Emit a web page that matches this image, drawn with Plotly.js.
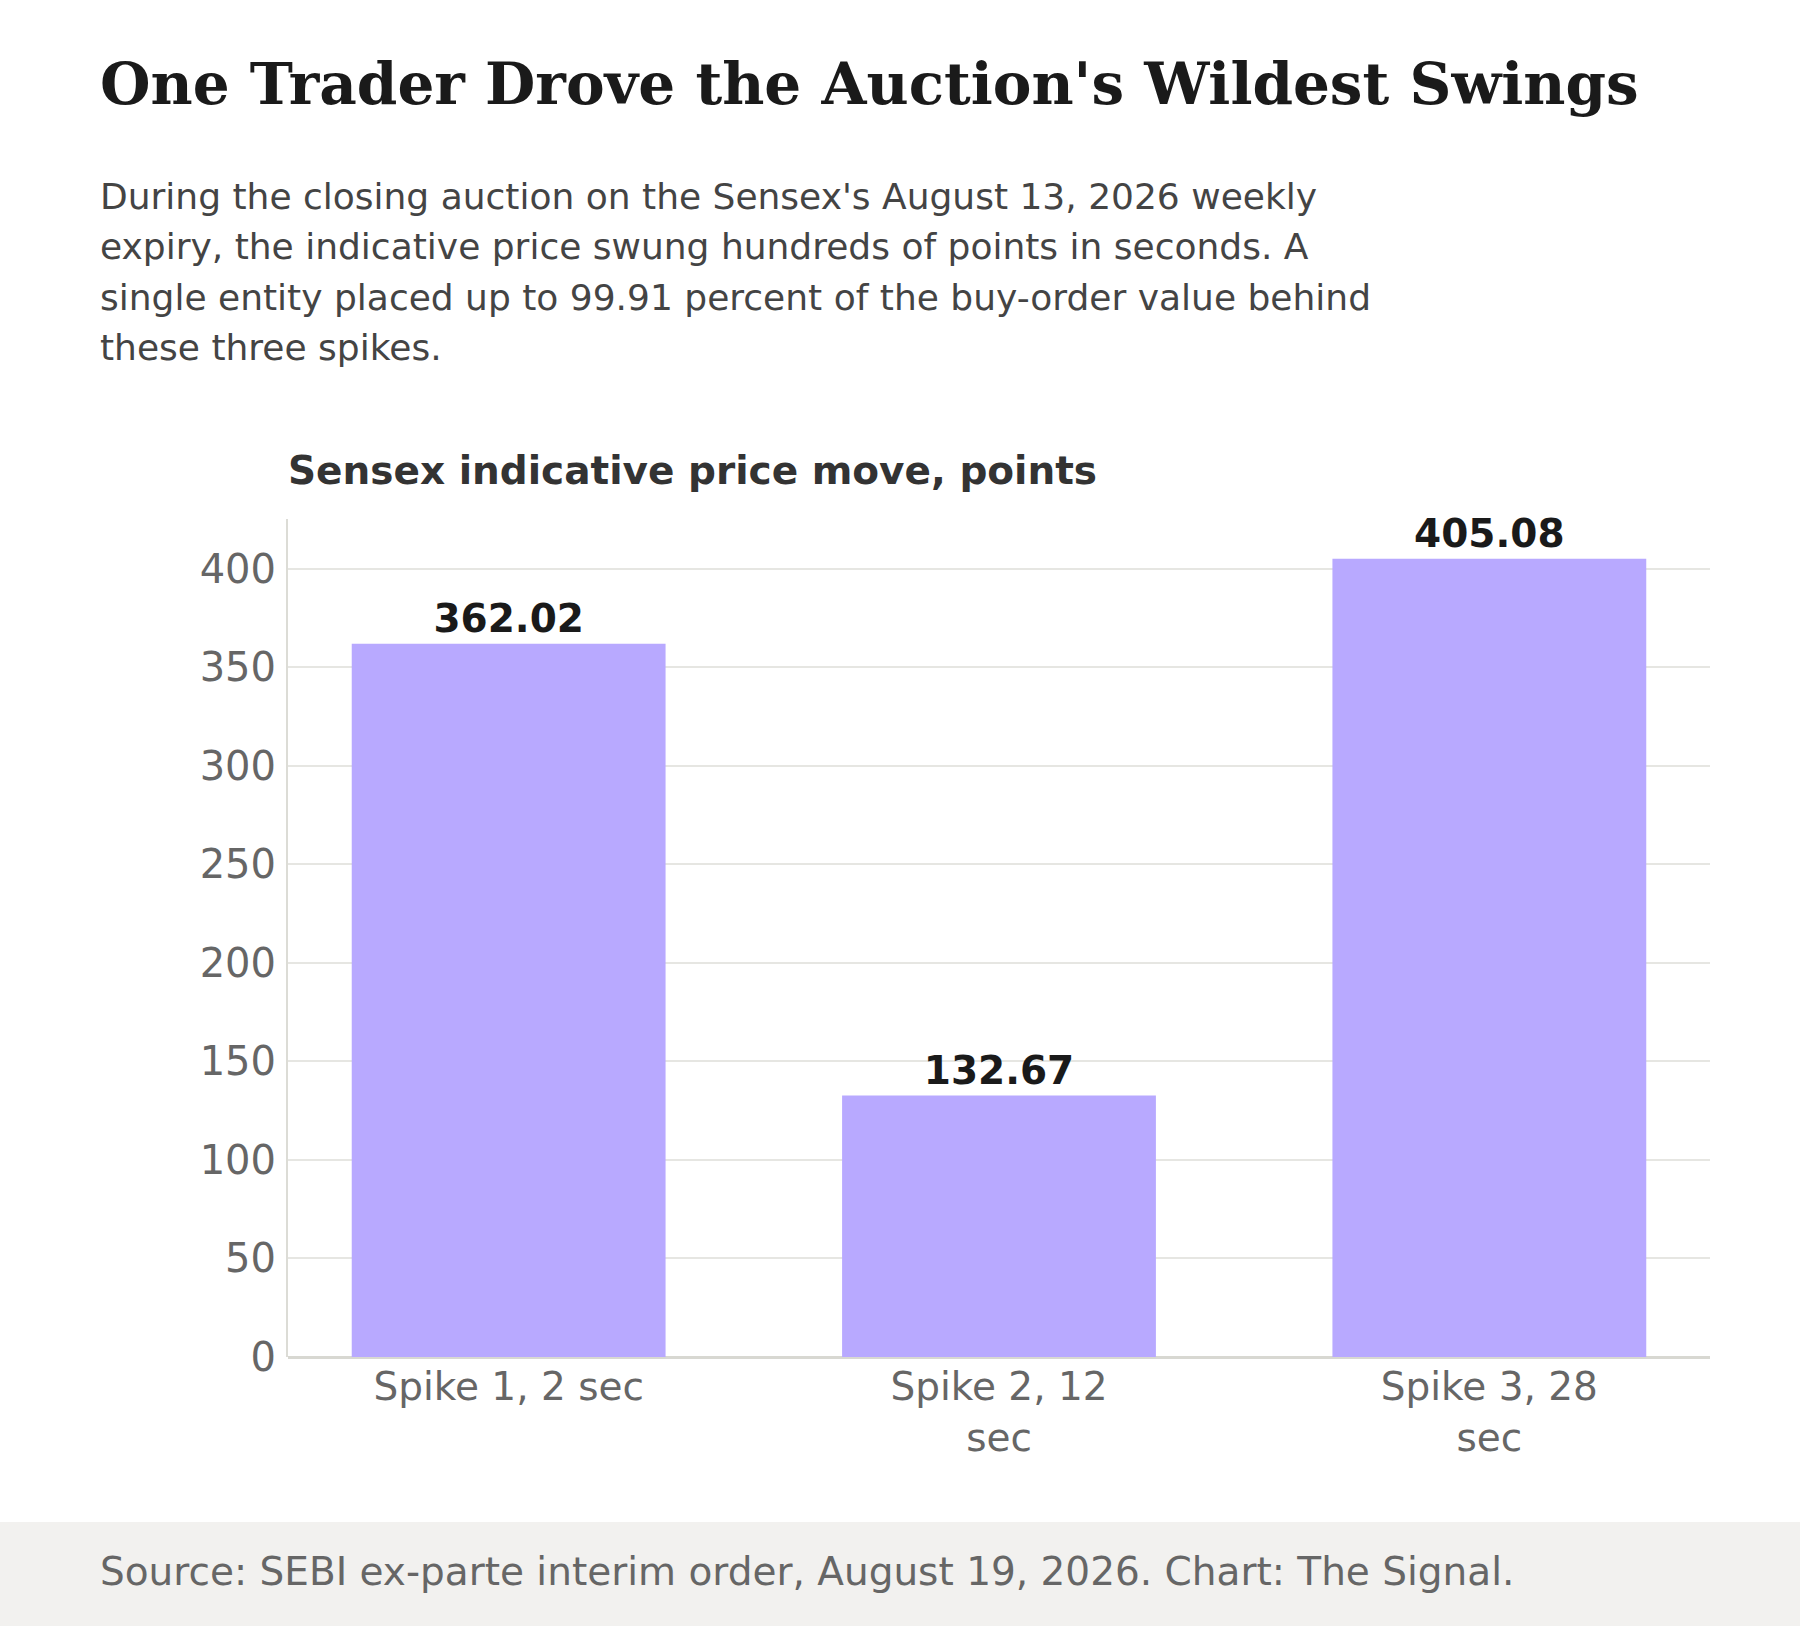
<!DOCTYPE html>
<html>
<head>
<meta charset="utf-8">
<script src="https://cdn.plot.ly/plotly-3.0.1.min.js"></script>
<style>
  html, body { margin: 0; padding: 0; background: #ffffff; }
  #chart { width: 1800px; height: 1626px; }
</style>
</head>
<body>
<div id="chart"></div>
<script>
// Data
const categories = ['Spike 1, 2 sec', 'Spike 2, 12 sec', 'Spike 3, 28 sec'];
const tickLabels = ['Spike 1, 2 sec', 'Spike 2, 12<br>sec', 'Spike 3, 28<br>sec'];
const moves = [362.02, 132.67, 405.08];
const yTicks = [0, 50, 100, 150, 200, 250, 300, 350, 400];

const titleText = "One Trader Drove the Auction's Wildest Swings";
const subtitleLines = [
  "During the closing auction on the Sensex's August 13, 2026 weekly",
  "expiry, the indicative price swung hundreds of points in seconds. A",
  "single entity placed up to 99.91 percent of the buy-order value behind",
  "these three spikes."
];
const chartTitle = 'Sensex indicative price move, points';
const sourceText = 'Source: SEBI ex-parte interim order, August 19, 2026. Chart: The Signal.';

// Page geometry (pixels)
const W = 1800, H = 1626;
const plotL = 288, plotR = 1710, plotT = 519, plotB = 1357;
const px = (x) => (x - plotL) / (plotR - plotL);
const py = (y) => (plotB - y) / (plotB - plotT);

const SANS = 'DejaVu Sans, Verdana, sans-serif';
const SERIF = 'DejaVu Serif, Georgia, serif';
const LEFT = 97.5;

let bars = {
  type: 'bar',
  x: categories,
  y: moves,
  marker: { color: '#b8a9ff' },
  texttemplate: '<b>%{y:.2f}</b>',
  textposition: 'outside',
  textfont: { family: SANS, size: 39, color: '#1a1a1a' },
  cliponaxis: false,
  hoverinfo: 'x+y'
};

let annotations = [];

annotations.push({
  text: '<b>' + titleText + '</b>',
  xref: 'paper', yref: 'paper', x: px(LEFT), y: py(84),
  xanchor: 'left', yanchor: 'middle', showarrow: false,
  font: { family: SERIF, size: 58, color: '#1a1a1a' }
});

const subY = [197, 247, 297.5, 347.5];
subtitleLines.forEach((line, i) => {
  annotations.push({
    text: line,
    xref: 'paper', yref: 'paper', x: px(LEFT), y: py(subY[i]),
    xanchor: 'left', yanchor: 'middle', showarrow: false,
    font: { family: SANS, size: 36, color: '#444444' }
  });
});

annotations.push({
  text: '<b>' + chartTitle + '</b>',
  xref: 'paper', yref: 'paper', x: px(286), y: py(471),
  xanchor: 'left', yanchor: 'middle', showarrow: false,
  font: { family: SANS, size: 39, color: '#333333' }
});

annotations.push({
  text: sourceText,
  xref: 'paper', yref: 'paper', x: px(LEFT), y: py(1571),
  xanchor: 'left', yanchor: 'middle', showarrow: false,
  font: { family: SANS, size: 39, color: '#666666' }
});

let layout = {
  width: W,
  height: H,
  margin: { l: plotL, r: W - plotR, t: plotT, b: H - plotB, pad: 0 },
  paper_bgcolor: '#ffffff',
  plot_bgcolor: '#ffffff',
  showlegend: false,
  bargap: 0.36,
  xaxis: {
    type: 'category',
    range: [-0.45, 2.45],
    tickvals: categories,
    ticktext: tickLabels,
    tickfont: { family: SANS, size: 39, color: '#666666' },
    ticks: '',
    ticklabelstandoff: 3,
    showline: false,
    showgrid: false,
    zeroline: false,
    fixedrange: true
  },
  yaxis: {
    range: [0, 425.3],
    tickvals: yTicks,
    tickfont: { family: SANS, size: 40, color: '#666666' },
    ticks: '',
    ticklabelstandoff: 2,
    showline: true,
    linecolor: '#dcdcd6',
    linewidth: 2,
    gridcolor: '#e6e6e2',
    gridwidth: 2,
    zeroline: true,
    zerolinecolor: '#d8d8d2',
    zerolinewidth: 3,
    fixedrange: true
  },
  shapes: [{
    type: 'rect', xref: 'paper', yref: 'paper', layer: 'below',
    x0: px(0), x1: px(W), y0: py(1522), y1: py(H + 5),
    fillcolor: '#f2f1ef', line: { width: 0 }
  }],
  annotations: annotations
};

Plotly.newPlot('chart', [bars], layout, { displayModeBar: false, staticPlot: true });
</script>
</body>
</html>
